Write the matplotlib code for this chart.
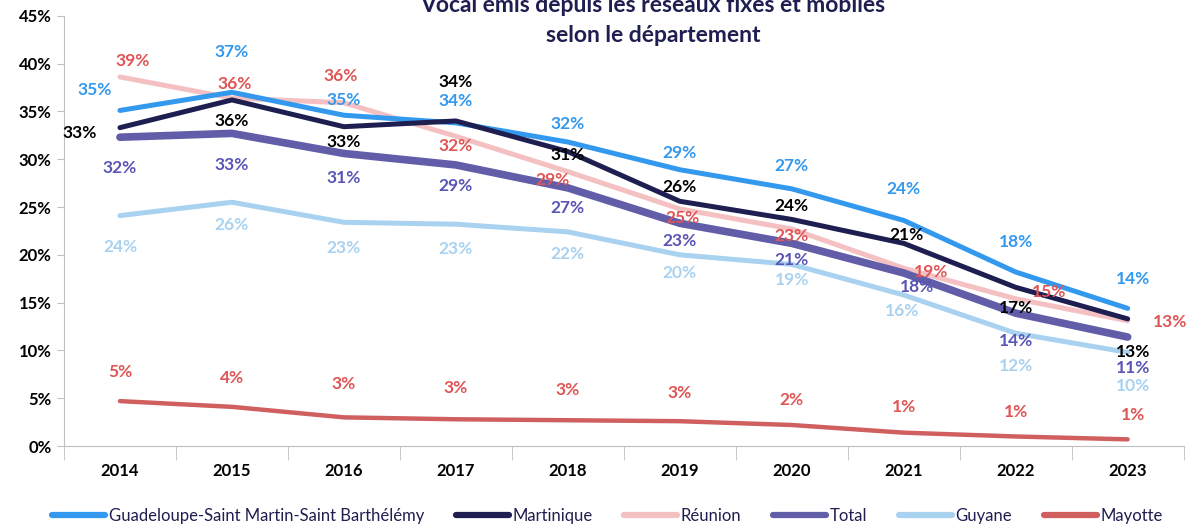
import numpy as np
import matplotlib.pyplot as plt
from matplotlib.ticker import PercentFormatter

years = [2014, 2015, 2016, 2017, 2018, 2019, 2020, 2021, 2022, 2023]

guadeloupe = [35.1, 37.0, 34.6, 33.8, 31.8, 28.9, 26.9, 23.6, 18.2, 14.4]
martinique = [33.3, 36.2, 33.4, 34.0, 30.8, 25.6, 23.7, 21.2, 16.6, 13.3]
reunion = [38.6, 36.4, 35.9, 32.4, 28.7, 24.8, 22.7, 18.6, 15.4, 13.1]
total = [32.3, 32.7, 30.6, 29.4, 27.0, 23.3, 21.2, 18.1, 13.9, 11.4]
guyane = [24.1, 25.5, 23.4, 23.2, 22.4, 20.0, 19.0, 15.8, 11.8, 9.8]
mayotte = [4.7, 4.1, 3.0, 2.8, 2.7, 2.6, 2.2, 1.4, 1.0, 0.7]

names = ['Guadeloupe-Saint Martin-Saint Barthélémy', 'Martinique', 'Réunion',
         'Total', 'Guyane', 'Mayotte']
series = [guadeloupe, martinique, reunion, total, guyane, mayotte]
line_colors = ['#3399EE', '#1E1E50', '#F4C0C2', '#625DA8', '#A9D2F0', '#D06060']
label_colors = ['#3399EE', '#000000', '#E05555', '#5A55B5', '#A9D2F0', '#E05555']
widths = [3.6, 3.6, 3.6, 5.5, 3.6, 3.2]
zorders = [4, 5, 3, 6, 2, 2]

# label offsets in pixels (dx, dy) from each point, y up
offsets = [
    [(-25, 20), (0, 40), (0, 15), (0, 22), (0, 18), (0, 17), (0, 23), (0, 31), (0, 30), (5, 29)],
    [(-40, -5), (0, -21), (0, -15), (0, 39), (0, -3), (0, 14), (0, 13), (3, 8), (0, -21), (5, -33)],
    [(13, 16), (3, 14), (-3, 27), (0, -10), (-15, -8), (3, -9), (0, -7), (27, -4), (33, 7), (42, -1)],
    [(0, -31), (0, -32), (0, -25), (0, -21), (0, -20), (0, -18), (0, -17), (13, -14), (0, -28), (5, -31)],
    [(0, -31), (0, -23), (0, -26), (0, -25), (0, -22), (0, -18), (0, -16), (-2, -16), (0, -33), (5, -34)],
    [(0, 29), (0, 29), (0, 33), (0, 31), (0, 30), (0, 28), (0, 25), (0, 26), (0, 24), (5, 24)],
]

plt.rcParams['font.family'] = ['Lato', 'DejaVu Sans']

fig = plt.figure(figsize=(11.98, 5.26), dpi=100)
ax = fig.add_axes([0.0534, 0.152, 0.9346, 0.818])

x = np.arange(len(years))
for s, name, lc, tc, lw, zo, off in zip(series, names, line_colors, label_colors,
                                       widths, zorders, offsets):
    vals = np.array(s) / 100
    ax.plot(x, vals, color=lc, lw=lw, label=name, zorder=zo,
            solid_joinstyle='round', solid_capstyle='round')
    for xi, v, (dx, dy) in zip(x, vals, off):
        ax.annotate(f'{round(v * 100):.0f}%', (xi, v), xytext=(dx, dy),
                    textcoords='offset pixels', ha='center', va='center',
                    color=tc, fontsize=12.5, fontweight='bold', zorder=10)

ax.set_xlim(-0.5, len(years) - 0.5)
ax.set_ylim(0, 0.45)
ax.set_yticks(np.arange(0, 0.451, 0.05))
ax.yaxis.set_major_formatter(PercentFormatter(1, decimals=0))
ax.set_xticks(x)
ax.set_xticklabels(years)
ax.set_xticks(np.arange(-0.5, len(years), 1), minor=True)
ax.tick_params(axis='x', which='major', length=0, pad=12)
ax.tick_params(axis='x', which='minor', length=10, color='#BFBFBF')
ax.tick_params(axis='y', length=5, color='#BFBFBF', pad=4)
for lab in ax.get_xticklabels() + ax.get_yticklabels():
    lab.set_fontweight('bold')
    lab.set_fontsize(12)
for sp in ['top', 'right']:
    ax.spines[sp].set_visible(False)
for sp in ['left', 'bottom']:
    ax.spines[sp].set_color('#BFBFBF')

fig.text(653 / 1198, 1 - 5 / 526, 'Vocal émis depuis les réseaux fixes et mobiles',
         ha='center', va='center', fontsize=16.5, fontweight='bold', color='#1E1E50')
fig.text(653 / 1198, 1 - 35 / 526, 'selon le département',
         ha='center', va='center', fontsize=16.5, fontweight='bold', color='#1E1E50')

leg = fig.legend(loc='lower center', bbox_to_anchor=(0.507, -0.025), ncol=6, frameon=False,
                 handlelength=3.2, handletextpad=0.2, columnspacing=1.9, fontsize=12)
for h in leg.get_lines():
    h.set_linewidth(4.5)
for t in leg.get_texts():
    t.set_color('#1E1E50')

fig.savefig('out.png', dpi=100)
